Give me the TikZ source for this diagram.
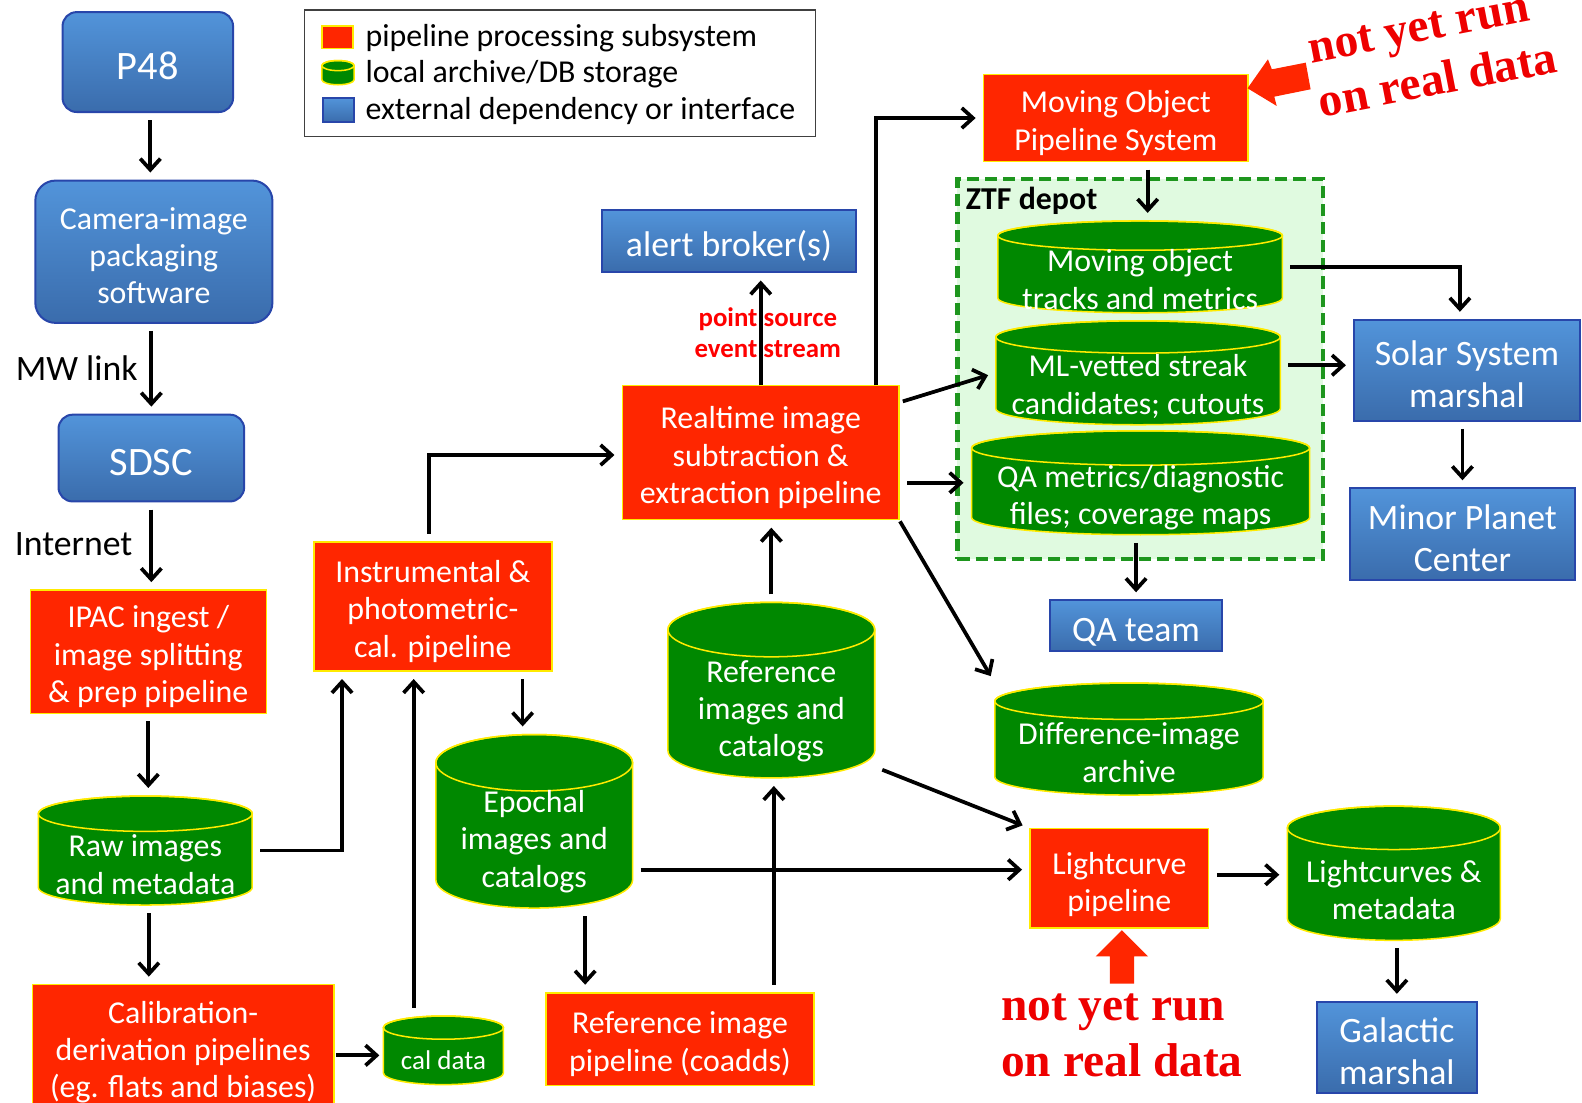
\documentclass[tikz,border=0pt]{standalone}
\usepackage{fontspec}
\setmainfont{Carlito}
\newfontfamily\annotfont{Liberation Serif}
\usetikzlibrary{arrows.meta,calc}
\definecolor{btop}{RGB}{82,148,218}
\definecolor{bbot}{RGB}{58,108,172}
\definecolor{bblue}{RGB}{40,70,170}
\definecolor{rred}{RGB}{255,38,0}
\definecolor{ryel}{RGB}{255,235,0}
\definecolor{ggreen}{RGB}{0,136,0}
\definecolor{dgreen}{RGB}{30,150,30}
\definecolor{lgreen}{RGB}{224,250,224}
\definecolor{annred}{RGB}{238,0,0}
\newcommand\fsA{\fontsize{15.8}{18.5}\selectfont}
\newcommand\fsB{\fontsize{17.7}{21}\selectfont}
\newcommand\fsP{\fontsize{20}{24}\selectfont}
\newcommand\fsC{\fontsize{13.4}{16}\selectfont}
% plain box: style, name, x1, y1, x2, y2
\newcommand\plainbox[6]{\node[#1, minimum width={(#5-#3)*0.5pt}, minimum height={(#6-#4)*0.5pt}] (#2) at ({(#3+#5)/2},{(#4+#6)/2}) {};}
% box with text: box style, text style, name, x1, y1, x2, y2, text
\newcommand\mybox[8]{\plainbox{#1}{#3}{#4}{#5}{#6}{#7}\node[#2] (#3txt) at (#3.center) {#8};}
\newcommand\mycyl[8]{%
  \pgfmathsetmacro\cxx{(#2+#4)/2}%
  \pgfmathsetmacro\rxx{(#4-#2)/2}%
  \pgfmathsetmacro\ytt{#3+#6}%
  \pgfmathsetmacro\ybb{#5-#6}%
  \filldraw[cylfill] (#2,\ytt) -- (#2,\ybb) arc[start angle=180,end angle=0,x radius=\rxx,y radius=#6] -- (#4,\ytt) arc[start angle=0,end angle=-180,x radius=\rxx,y radius=#6] -- cycle;
  \draw[cylfill, fill=none] (\cxx,\ytt) ellipse[x radius=\rxx, y radius=#6];
  \node[minimum width={(#4-#2)*0.5pt}, minimum height={(#5-#3)*0.5pt}, inner sep=0pt, outer sep=0pt] (#1) at (\cxx,{(#3+#5)/2}) {};
  \node[cyltext] (#1txt) at (\cxx,#7) {#8};
}
\tikzset{
  blueb/.style={draw=bblue, line width=1pt, top color=btop, bottom color=bbot, inner sep=0pt, outer sep=0pt},
  blueround/.style={blueb, rounded corners=8pt},
  blueT/.style={text=white, align=center, font=\fsB, inner sep=0pt, yshift=-2pt},
  redb/.style={draw=ryel, line width=0.75pt, fill=rred, inner sep=0pt, outer sep=0pt},
  redT/.style={text=white, align=center, font=\fsA, inner sep=0pt, yshift=-2.5pt},
  cylfill/.style={draw=ryel, line width=0.75pt, fill=ggreen},
  cyltext/.style={text=white, align=center, font=\fsA, inner sep=0pt, yshift=-1pt},
  depotbox/.style={draw=dgreen, line width=2pt, dash pattern=on 6pt off 3pt, fill=lgreen, inner sep=0pt},
  legbox/.style={draw=black!75, line width=0.6pt, fill=white, inner sep=0pt},
  legtext/.style={anchor=west, font=\fsA, inner sep=0pt},
  lab/.style={font=\fsB, inner sep=0pt},
  pslab/.style={font=\fontsize{13.3}{15.5}\selectfont\bfseries, text=red, align=center, inner sep=0pt},
  annot/.style={font=\annotfont\bfseries\fontsize{23.5}{27.5}\selectfont, text=annred, align=left, inner sep=0pt},
  arr/.style={line width=1.85pt, -{Straight Barb[length=5.5pt,width=10pt]}, shorten <=4pt, shorten >=4pt},
}
\begin{document}
\begin{tikzpicture}[x=0.5pt,y=-0.5pt]
\useasboundingbox (0,0) rectangle (1568,1093);
\fill[white] (0,0) rectangle (1568,1093);

% legend
\plainbox{legbox}{legend}{302}{10}{808}{135}
\plainbox{redb}{legred}{319}{26}{350}{48}
\mycyl{legcyl}{319}{60}{351}{84}{5}{72}{}
\plainbox{blueb}{legblue}{320}{97}{351}{121}
\node[legtext] (lt1) at (362,37.5) {pipeline processing subsystem};
\node[legtext] (lt2) at (362,73.5) {local archive/DB storage};
\node[legtext] (lt3) at (362,110.5) {external dependency or interface};

% ZTF depot
\plainbox{depotbox}{depot}{949}{177}{1311}{554}
\node[font=\fsA\bfseries, anchor=west, inner sep=0pt] (ztf) at (957,199) {ZTF depot};

% blue boxes
\mybox{blueround, rounded corners=7pt}{blueT, font=\fsP}{p48}{62}{12}{231}{111}{P48}
\mybox{blueround, rounded corners=10pt}{blueT, font=\fsA}{cam}{35}{179}{270}{320}{Camera-image\\packaging\\software}
\mybox{blueround, rounded corners=7pt}{blueT, font=\fsP}{sdsc}{58}{411}{242}{497}{SDSC}
\mybox{blueb}{blueT, yshift=-0.5pt}{alert}{597}{208}{848}{270}{alert broker(s)}
\mybox{blueb}{blueT}{solar}{1342}{317}{1566}{417}{Solar System\\marshal}
\mybox{blueb}{blueT}{mpc}{1338}{484}{1561}{575}{Minor Planet\\Center}
\mybox{blueb}{blueT, yshift=-1.5pt}{qateam}{1041}{595}{1211}{645}{QA team}
\mybox{blueb}{blueT}{gal}{1305}{993}{1464}{1083}{Galactic\\marshal}

% red boxes
\mybox{redb}{redT}{ipac}{30}{585}{264}{707}{IPAC ingest /\\image splitting\\\& prep pipeline}
\mybox{redb}{redT}{instr}{311}{537}{547}{665}{Instrumental \&\\photometric-\\cal. pipeline}
\mybox{redb}{redT}{rt}{617}{382}{891}{515}{Realtime image\\subtraction \&\\extraction pipeline}
\mybox{redb}{redT}{mops}{975}{74}{1237}{160}{Moving Object\\Pipeline System}
\mybox{redb}{redT, yshift=-0.5pt}{lc}{1021}{821}{1198}{920}{Lightcurve\\pipeline}
\mybox{redb}{redT}{calib}{32}{976}{331}{1100}{Calibration-\\derivation pipelines\\(eg. flats and biases)}
\mybox{redb}{redT}{refpipe}{541}{984}{807}{1076}{Reference image\\pipeline (coadds)}

% cylinders
\mycyl{raw}{38}{789}{250}{897}{17.5}{855}{Raw images\\and metadata}
\mycyl{epoch}{432}{728}{627}{900}{28}{832}{Epochal\\images and\\catalogs}
\mycyl{refimg}{662}{597}{867}{771}{27}{703}{Reference\\images and\\catalogs}
\mycyl{caldata}{380}{1007}{499}{1075}{11.5}{1049}{\fsC cal data}
\mycyl{tracks}{989}{219}{1271}{310}{14.5}{275}{Moving object\\tracks and metrics}
\mycyl{ml}{987}{318}{1269}{421}{16}{381}{ML-vetted streak\\candidates; cutouts}
\mycyl{qam}{963}{427}{1298}{530}{17}{491}{QA metrics/diagnostic\\files; coverage maps}
\mycyl{diff}{986}{677}{1252}{788}{18}{744}{Difference-image\\archive}
\mycyl{lcs}{1276}{799}{1487}{932}{21.5}{880}{Lightcurves \&\\metadata}

% labels
\node[lab] (mw) at (76,365) {MW link};
\node[lab] (inet) at (73,539) {Internet};
\node[pslab] (ps) at (761,330) {point source\\event stream};

% connectors
\draw[arr] ([xshift=1.25pt]p48.south) -- ([xshift=1.25pt]p48.south |- cam.north);
\draw[arr] (sdsc.north |- cam.south) -- (sdsc.north);
\draw[arr] (sdsc.south) -- (sdsc.south |- ipac.north);
\draw[arr] (ipac.south) -- (ipac.south |- raw.north);
\draw[arr] ([xshift=1.75pt]raw.south) -- ([xshift=1.75pt]raw.south |- calib.north);
\draw[arr] (raw.east) -| ([xshift=14pt]instr.south west);
\draw[arr] ([xshift=49.5pt]instr.south west |- caldata.north) -- ([xshift=49.5pt]instr.south west);
\draw[arr, shorten <=1pt, shorten >=2pt] ([yshift=-2.5pt]calib.east |- caldata.west) -- ([yshift=-2.5pt]caldata.west);
\draw[arr] ([xshift=-14.5pt]instr.south east) -- ([xshift=-14.5pt]instr.south east |- epoch.north);
\draw[arr] ([xshift=-2pt]instr.north) |- ([yshift=-1.25pt]rt.west);
\draw[arr] ([xshift=19.5pt]refpipe.north west |- epoch.south) -- ([xshift=19.5pt]refpipe.north west);
\coordinate (e2l) at ([yshift=-20.5pt]lc.north west);
\draw[arr] (epoch.east |- e2l) -- (e2l);
\draw[arr] ([xshift=1.25pt]refimg.south |- refpipe.north) -- ([xshift=1.25pt]refimg.south);
\draw[arr] (refimg.north) -- (refimg.north |- rt.south);
\draw[arr] ([yshift=5.5pt]refimg.south east) -- (lc.north west);
\draw[arr, shorten <=0pt] (rt.north) -- (rt.north |- alert.south);
\draw[arr, shorten <=0pt] ([xshift=-11.5pt]rt.north east) |- (mops.west);
\draw[arr, shorten <=2pt] ([yshift=-8.5pt]rt.north east) -- (ml.west);
\draw[arr] (rt.east |- qam.west) -- (qam.west);
\draw[arr, shorten <=1pt] (rt.south east) -- (diff.north west);
\draw[arr] ([xshift=3.75pt]tracks.north |- mops.south) -- ([xshift=3.75pt]tracks.north);
\draw[arr] (tracks.east) -| ([xshift=-3.5pt]solar.north);
\draw[arr] ([yshift=3.75pt]ml.east) -- ([yshift=3.75pt]ml.east -| solar.west);
\draw[arr] (mpc.north |- solar.south) -- (mpc.north);
\draw[arr] (qateam.north |- qam.south) -- (qateam.north);
\draw[arr] ([yshift=1.75pt]lc.east) -- ([yshift=1.75pt]lc.east -| lcs.west);
\draw[arr] (gal.north |- lcs.south) -- (gal.north);

% annotations
\node[annot, rotate=11] (nyr1) at (1420,54) {not yet run\\on real data};
\node[annot] (nyr2) at (1112,1026) {not yet run\\on real data};
\fill[rred] (1236.5,87.5) -- (1256.7,58.8) -- (1260.6,68.7) -- (1294.2,62.1) -- (1299,88.5) -- (1263,95.8) -- (1265.4,105) -- cycle;
\fill[rred] (1112,922) -- (1138,948) -- (1124,948) -- (1124,975) -- (1100,975) -- (1100,948) -- (1086,948) -- cycle;
\end{tikzpicture}
\end{document}
